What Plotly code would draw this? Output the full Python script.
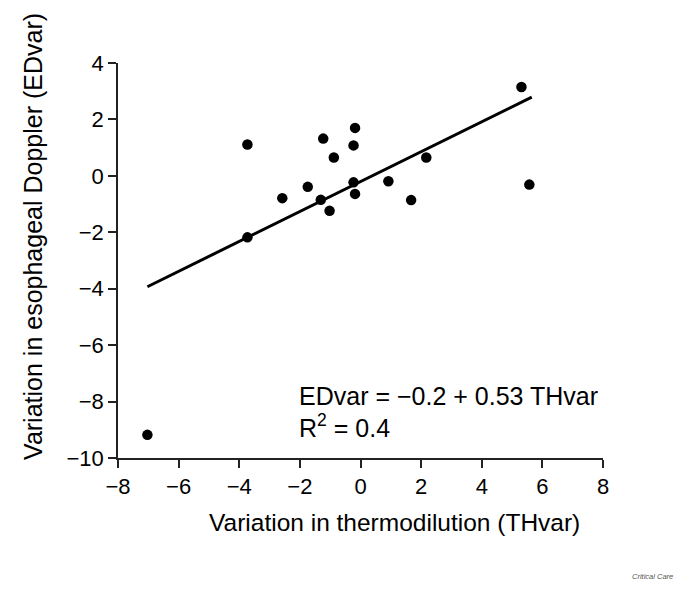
import plotly.graph_objects as go

# Points (THvar, EDvar)
th_var = [-7.03, -3.73, -3.73, -2.58, -1.74, -1.31, -1.23, -1.02, -0.88,
          -0.23, -0.23, -0.18, -0.18, 0.92, 1.67, 2.17, 5.31, 5.57]
ed_var = [-9.18, 1.11, -2.18, -0.79, -0.39, -0.85, 1.32, -1.24, 0.65,
          1.08, -0.23, 1.70, -0.64, -0.19, -0.86, 0.65, 3.15, -0.31]

# Regression line end points
fit_x = [-7.03, 5.65]
fit_y = [-3.93, 2.79]

x_ticks = [-8, -6, -4, -2, 0, 2, 4, 6, 8]
y_ticks = [-10, -8, -6, -4, -2, 0, 2, 4]

font_family = "Liberation Sans, Arial, sans-serif"

fig = go.Figure()
fig.add_trace(go.Scatter(
    x=fit_x, y=fit_y, mode='lines',
    line=dict(color='black', width=3), hoverinfo='skip'
))
fig.add_trace(go.Scatter(
    x=th_var, y=ed_var, mode='markers',
    marker=dict(color='black', size=10.5, line=dict(width=0))
))

# equation text
fig.add_annotation(
    x=-2.11, y=-7.80, xref='x', yref='y', xanchor='left', yanchor='middle',
    text='EDvar = \u22120.2 + 0.53 THvar', showarrow=False,
    font=dict(size=25, color='black', family=font_family)
)
fig.add_annotation(
    x=-2.11, y=-8.86, xref='x', yref='y', xanchor='left', yanchor='middle',
    text='R<sup>2</sup> = 0.4', showarrow=False,
    font=dict(size=25, color='black', family=font_family)
)

# axis titles placed by hand (they are off-centre in the original)
fig.add_annotation(
    x=0.571, y=-0.163, xref='paper', yref='paper', xanchor='center', yanchor='middle',
    text='Variation in thermodilution (THvar)', showarrow=False,
    font=dict(size=24.5, color='black', family=font_family)
)
fig.add_annotation(
    x=-0.175, y=0.56, xref='paper', yref='paper', xanchor='center', yanchor='middle',
    text='Variation in esophageal Doppler (EDvar)', showarrow=False, textangle=-90,
    font=dict(size=25, color='black', family=font_family)
)

fig.add_annotation(
    x=1.103, y=-0.301, xref='paper', yref='paper', xanchor='center', yanchor='middle',
    showarrow=False,
    text='<i>Critical Care</i>', font=dict(size=7.5, color='#555555', family=font_family)
)

axis_common = dict(
    showgrid=False, zeroline=False, showline=True, linecolor='#222222', linewidth=1.5,
    ticks='outside', ticklen=8, tickwidth=1.5, tickcolor='#222222',
    tickfont=dict(size=22, color='black', family=font_family),
    mirror=False, automargin=False
)

# page body adds 8px, so the figure is a little smaller than the window
fig.update_layout(
    width=677, height=582,
    plot_bgcolor='white', paper_bgcolor='white',
    showlegend=False,
    margin=dict(l=110, r=82, t=55, b=132),
    xaxis=dict(
        range=[-8, 8], tickvals=x_ticks,
        ticktext=[str(v).replace('-', '\u2212') for v in x_ticks],
        **axis_common
    ),
    yaxis=dict(
        range=[-10, 4], tickvals=y_ticks,
        ticktext=[str(v).replace('-', '\u2212') for v in y_ticks],
        **axis_common
    ),
)

fig.write_html("out.html")
